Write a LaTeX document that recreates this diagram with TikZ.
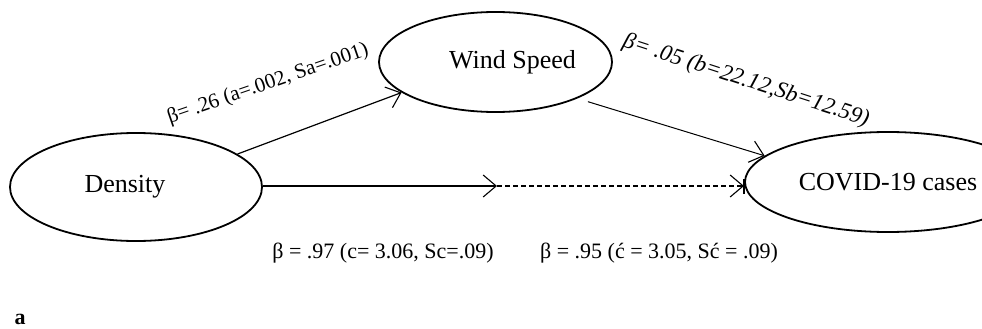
\documentclass[tikz,border=0pt]{standalone}
\usepackage{fontspec}
\setmainfont{Liberation Serif}
\usetikzlibrary{shapes.geometric,arrows.meta}
\begin{document}
\begin{tikzpicture}[x=1pt,y=-1pt,
  var/.style={draw=black,line width=1.8pt,ellipse,inner sep=0pt,font=\fontsize{26}{30}\selectfont},
  conn/.style={line width=1.2pt,-{Straight Barb[length=13pt,width=22pt,line width=1.1pt]}},
  lbl/.style={font=\fontsize{22}{26}\selectfont,inner sep=0pt},
  rlbl/.style={font=\fontsize{21}{24}\selectfont,inner sep=0pt}]
\useasboundingbox[fill=white] (0,0) rectangle (982,329);
\node[var,minimum width=252pt,minimum height=108pt] (d) at (136,187) {Density\hspace*{22pt}};
\node[var,minimum width=233pt,minimum height=100pt] (w) at (495.5,62) {\hspace*{34pt}Wind Speed};
\node[var,minimum width=286pt,minimum height=100pt] (c) at (888,182) {COVID-19 cases};
\coordinate (m) at (497,186);
\coordinate (t) at (744,186);
\draw[conn] (d.18) -- (w.198);
\draw[conn,line width=1pt,shorten <=11pt] (w.336.6) -- (c.168.3);
\draw[conn] (d.east |- m) -- (m);
\draw[conn,dashed,dash pattern=on 5pt off 3pt] (m) -- (t);
\draw[line width=1.6pt] ([yshift=-8pt]t) -- ([yshift=7pt]t);
\node[rlbl,rotate=19] (la) at (268,84) {β= .26 (a=.002, Sa=.001)};
\node[rlbl,rotate=-18,font=\fontsize{23}{26}\selectfont\itshape] (lb) at (746,81) {β= .05 (b=22.12,Sb=12.59)};
\node[lbl] (lc) at (383,253) {β = .97 (c= 3.06, Sc=.09)};
\node[lbl] (ld) at (659,253) {β = .95 (ć = 3.05, Sć = .09)};
\node[font=\fontsize{22}{26}\selectfont\bfseries,inner sep=0pt] (pa) at (20,319) {a};
\end{tikzpicture}
\end{document}
